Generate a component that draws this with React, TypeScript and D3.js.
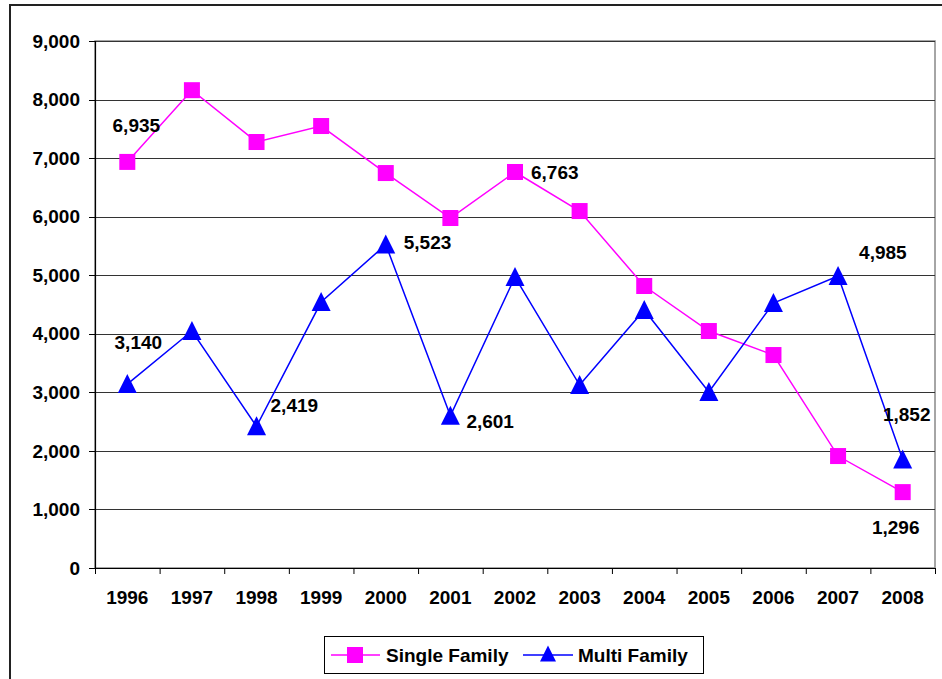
import React from "react";
import * as d3 from "d3";

const years = ["1996","1997","1998","1999","2000","2001","2002","2003","2004","2005","2006","2007","2008"];
const singleFamily = [6935, 8160, 7275, 7548, 6745, 5977, 6763, 6096, 4816, 4047, 3637, 1912, 1296];
const multiFamily = [3140, 4047, 2419, 4542, 5523, 2601, 4969, 3125, 4406, 3005, 4525, 4985, 1852];
const yTicks = [0, 1000, 2000, 3000, 4000, 5000, 6000, 7000, 8000, 9000];
// labelled points: [index, dx, dy, anchor]
const singleLabels: [number, number, number, string][] = [
  [0, 9, -37, "middle"],
  [6, 16, 0, "start"],
  [12, -7, 35, "middle"],
];
const multiLabels: [number, number, number, string][] = [
  [0, 11, -42, "middle"],
  [2, 14, -21, "start"],
  [4, 18, -2, "start"],
  [5, 16, 6, "start"],
  [11, 21, -24, "start"],
  [12, 4, -45, "middle"],
];

const W = 942, H = 679;
const M = { left: 95, right: 935, top: 41, bottom: 568 };
const FONT = "'Liberation Sans', Arial, sans-serif";
const FS = 19;
const PINK = "#FF00FF";
const BLUE = "#0000FF";

export default function App() {
  const x = d3.scaleBand<string>().domain(years).range([M.left, M.right]);
  const cx = (i: number) => (x(years[i]) as number) + x.bandwidth() / 2;
  const y = d3.scaleLinear().domain([0, 9000]).range([M.bottom, M.top]);
  const line = d3.line<number>().x((_, i) => cx(i)).y((d) => y(d));
  const fmt = d3.format(",");
  const tri = (px: number, py: number, s: number) =>
    `M${px},${py - s * 0.53}L${px + s / 2},${py + s * 0.47}L${px - s / 2},${py + s * 0.47}Z`;

  return (
    <svg width={W} height={H} style={{ position: "absolute", left: 0, top: 0 }} fontFamily={FONT}>
      <rect x={0} y={0} width={W} height={H} fill="#fff" />
      <rect x={10} y={5} width={W + 10} height={H + 10} fill="none" stroke="#222" strokeWidth={2} />
      {/* plot area */}
      <rect x={M.left} y={M.top} width={M.right - M.left} height={M.bottom - M.top} fill="none" stroke="#888" strokeWidth={1.5} />
      {yTicks.map((t) => (
        <g key={t}>
          <line x1={M.left} x2={M.right} y1={Math.round(y(t)) + 0.5} y2={Math.round(y(t)) + 0.5} stroke="#333" strokeWidth={1} />
          <line x1={M.left - 6} x2={M.left} y1={Math.round(y(t)) + 0.5} y2={Math.round(y(t)) + 0.5} stroke="#000" />
          <text x={80} y={y(t)} dy="0.35em" textAnchor="end" fontSize={FS} fontWeight="bold">{fmt(t)}</text>
        </g>
      ))}
      <line x1={M.left + 0.5} x2={M.left + 0.5} y1={M.top} y2={M.bottom} stroke="#000" strokeWidth={1.2} />
      <line x1={M.left} x2={M.right} y1={M.bottom + 0.5} y2={M.bottom + 0.5} stroke="#000" strokeWidth={1.2} />
      {years.map((yr, i) => (
        <g key={yr}>
          <line x1={(x(yr) as number) + 0.5} x2={(x(yr) as number) + 0.5} y1={M.bottom} y2={M.bottom + 6} stroke="#000" />
          <text x={cx(i)} y={597} dy="0.35em" textAnchor="middle" fontSize={FS} fontWeight="bold">{yr}</text>
        </g>
      ))}
      <line x1={M.right + 0.5} x2={M.right + 0.5} y1={M.bottom} y2={M.bottom + 6} stroke="#000" />
      {/* series */}
      <path d={line(singleFamily) as string} fill="none" stroke={PINK} strokeWidth={1.5} />
      <path d={line(multiFamily) as string} fill="none" stroke={BLUE} strokeWidth={1.5} />
      {singleFamily.map((v, i) => (
        <rect key={i} x={cx(i) - 8} y={y(v) - 8} width={16} height={16} fill={PINK} />
      ))}
      {multiFamily.map((v, i) => (
        <path key={i} d={tri(cx(i), y(v), 19)} fill={BLUE} />
      ))}
      {singleLabels.map(([i, dx, dy, anchor]) => (
        <text key={"s" + i} x={cx(i) + dx} y={y(singleFamily[i]) + dy} dy="0.35em" textAnchor={anchor as any} fontSize={FS} fontWeight="bold">{fmt(singleFamily[i])}</text>
      ))}
      {multiLabels.map(([i, dx, dy, anchor]) => (
        <text key={"m" + i} x={cx(i) + dx} y={y(multiFamily[i]) + dy} dy="0.35em" textAnchor={anchor as any} fontSize={FS} fontWeight="bold">{fmt(multiFamily[i])}</text>
      ))}
      {/* legend */}
      <rect x={324.5} y={636.5} width={379} height={37} fill="#fff" stroke="#000" strokeWidth={1} />
      <line x1={331} x2={380} y1={655} y2={655} stroke={PINK} strokeWidth={1.5} />
      <rect x={355 - 8} y={655 - 8} width={16} height={16} fill={PINK} />
      <text x={386} y={655} dy="0.35em" fontSize={FS} fontWeight="bold">Single Family</text>
      <line x1={523} x2={573} y1={655} y2={655} stroke={BLUE} strokeWidth={1.5} />
      <path d={tri(548, 654, 16)} fill={BLUE} />
      <text x={578} y={655} dy="0.35em" fontSize={FS} fontWeight="bold">Multi Family</text>
    </svg>
  );
}
